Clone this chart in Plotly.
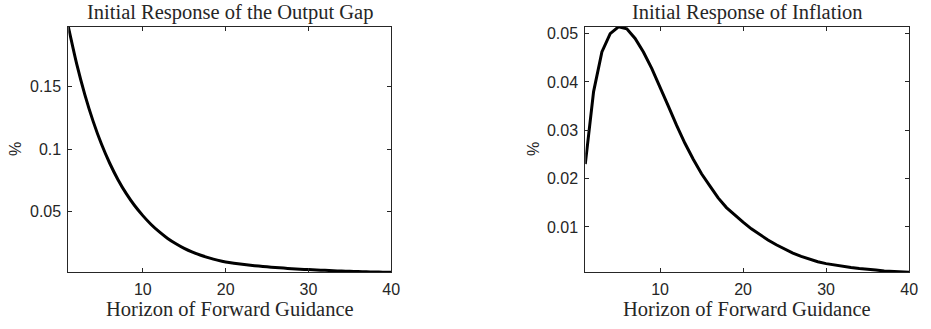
import plotly.graph_objects as go

# ---- data ----
horizon = list(range(1, 41))
output_gap = [0.198, 0.1685, 0.1435, 0.1222, 0.1040, 0.0886, 0.0754, 0.0642, 0.0547, 0.0466,
              0.0395, 0.0335, 0.0283, 0.0240, 0.0203, 0.0173, 0.0148, 0.0127, 0.0109, 0.0094,
              0.0084, 0.0076, 0.0068, 0.0061, 0.0055, 0.0050, 0.0045, 0.0040, 0.0036, 0.0033,
              0.0030, 0.0027, 0.0024, 0.0021, 0.0019, 0.0017, 0.0015, 0.0014, 0.0012, 0.0011]
inflation = [0.0230, 0.0380, 0.0462, 0.0500, 0.0514, 0.0510, 0.0490, 0.0462, 0.0428, 0.0390,
             0.0350, 0.0310, 0.0273, 0.0240, 0.0210, 0.0185, 0.0160, 0.0140, 0.0124, 0.0110,
             0.0096, 0.0084, 0.0073, 0.0063, 0.0054, 0.0046, 0.0039, 0.0033, 0.0028, 0.0024,
             0.0021, 0.0018, 0.0016, 0.0014, 0.0013, 0.0011, 0.0009, 0.0008, 0.0007, 0.0006]
x_ticks = [10, 20, 30, 40]
gap_ticks = [0.05, 0.1, 0.15]
gap_tick_labels = ["0.05", "0.1", "0.15"]
infl_ticks = [0.01, 0.02, 0.03, 0.04, 0.05]
infl_tick_labels = ["0.01", "0.02", "0.03", "0.04", "0.05"]
titles = ["Initial Response of the Output Gap", "Initial Response of Inflation"]
x_label = "Horizon of Forward Guidance"
y_label = "%"

W, H = 931, 329
AX = "#262626"
SERIF = "Liberation Serif"
SANS = "Liberation Sans"

fig = go.Figure()
fig.add_trace(go.Scatter(x=horizon, y=output_gap, mode="lines",
                         line=dict(color="black", width=3, shape="spline", smoothing=0.6),
                         xaxis="x", yaxis="y", showlegend=False, hoverinfo="skip"))
fig.add_trace(go.Scatter(x=horizon, y=inflation, mode="lines",
                         line=dict(color="black", width=3), xaxis="x2", yaxis="y2",
                         showlegend=False, hoverinfo="skip"))

ydom = [1 - 272 / H, 1 - 25 / H]
d1 = [69 / W, 395 / W]
d2 = [591 / W, 918 / W]

common_axis = dict(showline=True, linecolor=AX, linewidth=1, mirror="ticks",
                   ticks="inside", ticklen=4, tickcolor=AX, tickwidth=1,
                   showgrid=False, zeroline=False,
                   tickfont=dict(family=SANS, size=16, color=AX))

fig.update_layout(
    width=W, height=H, margin=dict(l=0, r=0, t=0, b=0),
    paper_bgcolor="white", plot_bgcolor="white",
    xaxis=dict(domain=d1, range=[1, 40], tickvals=x_ticks, anchor="y",
               ticklabelstandoff=2, **common_axis),
    yaxis=dict(domain=ydom, range=[min(output_gap), max(output_gap)],
               tickvals=gap_ticks, ticktext=gap_tick_labels, anchor="x",
               ticklabelstandoff=3, **common_axis),
    xaxis2=dict(domain=d2, range=[1, 40], tickvals=x_ticks, anchor="y2",
                ticklabelstandoff=2, **common_axis),
    yaxis2=dict(domain=ydom, range=[min(inflation), max(inflation)],
                tickvals=infl_ticks, ticktext=infl_tick_labels, anchor="x2",
                ticklabelstandoff=3, **common_axis),
)

ann = []
for dom, t, ylx in [(d1, titles[0], 15), (d2, titles[1], 538)]:
    cx = (dom[0] + dom[1]) / 2
    ann.append(dict(text=t, x=cx, y=1 - 11 / H, xref="paper", yref="paper",
                    xanchor="center", yanchor="middle", showarrow=False,
                    font=dict(family=SERIF, size=20.5, color=AX)))
    ann.append(dict(text=x_label, x=cx, y=1 - 309 / H, xref="paper", yref="paper",
                    xanchor="center", yanchor="middle", showarrow=False,
                    font=dict(family=SERIF, size=20.5, color=AX)))
    ann.append(dict(text=y_label, x=ylx / W, y=1 - 148 / H, xref="paper", yref="paper",
                    xanchor="center", yanchor="middle", showarrow=False, textangle=-90,
                    font=dict(family=SANS, size=16, color=AX)))
fig.update_layout(annotations=ann)

fig.write_html("out.html")
